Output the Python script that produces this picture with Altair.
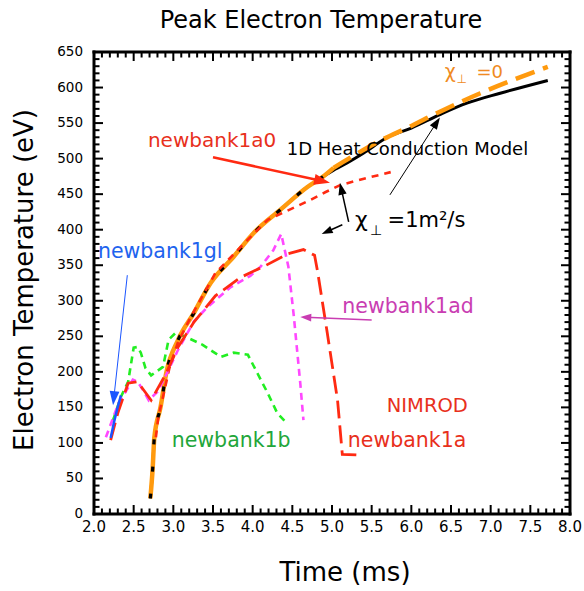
import math
import altair as alt
import pandas as pd

FONT = "DejaVu Sans"

# ---------------- data ----------------
# 1D heat conduction model (black solid)
black_t = [2.71, 2.74, 2.76, 2.84, 2.91, 3.06, 3.26, 3.47, 3.76, 4.01, 4.35, 4.69, 4.88,
           5.04, 5.19, 5.40, 5.70, 6.00, 6.36, 6.70, 7.12, 7.72]
black_v = [22, 65, 107, 151, 198, 245, 283, 325, 362, 395, 428, 460, 474,
           485, 494, 508, 530, 543, 562, 578, 592, 610]

# chi_perp = 0 (orange)
orange_t = [2.71, 2.74, 2.76, 2.84, 2.91, 3.06, 3.26, 3.47, 3.76, 4.01, 4.35, 4.69, 4.88,
            5.02, 5.30, 5.57, 6.00, 6.36, 6.87, 7.29, 7.72]
orange_v = [22, 65, 107, 151, 198, 245, 283, 325, 362, 395, 428, 460, 474,
            487, 506, 523, 546, 566, 592, 611, 629]

# chi_perp = 1 m^2/s (red short dash)
rs_t = [2.78, 2.81, 2.87, 2.95, 3.06, 3.22, 3.53, 3.94, 4.19, 4.52, 4.73, 4.92, 5.11, 5.45, 5.74]
rs_v = [108, 136, 165, 205, 242, 277, 339, 386, 414, 431, 442, 453, 463, 473, 481]

# newbank1a (red long dash)
rl_t = [2.21, 2.30, 2.43, 2.55, 2.72, 2.91, 3.06, 3.26, 3.53, 3.85, 4.17, 4.44, 4.64,
        4.78, 4.82, 4.94, 5.07, 5.13, 5.32]
rl_v = [104, 142, 184, 186, 160, 198, 235, 270, 307, 333, 350, 366, 372,
        364, 340, 255, 160, 84, 83]

# newbank1ad (magenta)
mg_t = [2.15, 2.31, 2.49, 2.55, 2.62, 2.69, 2.80, 2.88, 3.06, 3.26, 3.43, 3.72, 3.97,
        4.10, 4.26, 4.36, 4.45, 4.52, 4.60, 4.64]
mg_v = [108, 156, 189, 186, 174, 160, 172, 189, 231, 271, 291, 319, 335,
        348, 371, 394, 348, 277, 184, 132]

# newbank1b (green)
gr_t = [2.24, 2.34, 2.43, 2.50, 2.55, 2.59, 2.65, 2.72, 2.87, 2.94, 3.03, 3.16, 3.37,
        3.60, 3.76, 3.94, 4.06, 4.19, 4.31, 4.42]
gr_v = [132, 165, 186, 234, 235, 227, 205, 195, 207, 245, 255, 249, 238,
        221, 227, 224, 198, 170, 142, 129]

# newbank1gl (blue)
bl_t = [2.21, 2.25, 2.30, 2.34]
bl_v = [107, 128, 151, 167]

# axis tick labels and titles
x_labels = [2.0, 2.5, 3.0, 3.5, 4.0, 4.5, 5.0, 5.5, 6.0, 6.5, 7.0, 7.5, 8.0]
y_labels = [0, 50, 100, 150, 200, 250, 300, 350, 400, 450, 500, 550, 600, 650]
x_title = "Time (ms)"
y_title = "Electron Temperature (eV)"
main_title = "Peak Electron Temperature"

# ---------------- geometry: the view covers the whole canvas ----------------
CW, CH = 584, 591                      # canvas
PL, PR, PT, PB = 94, 570, 52, 514      # plot frame in pixels
T0, T1, V0, V1 = 2.0, 8.0, 0, 650      # frame in data units
XS = (PR - PL) / (T1 - T0)
YS = (PB - PT) / (V1 - V0)
xdom = [T0 - PL / XS, T1 + (CW - PR) / XS]
ydom = [V0 - (CH - PB) / YS, V1 + PT / YS]
xscale = alt.Scale(domain=xdom, nice=False, zero=False)
yscale = alt.Scale(domain=ydom, nice=False, zero=False)


def X(f):
    return alt.X(f"{f}:Q", scale=xscale, axis=None)


def Y(f):
    return alt.Y(f"{f}:Q", scale=yscale, axis=None)


def line(t, v, color, width, dash=None, interp="linear", tmin=None, tmax=None):
    d = pd.DataFrame({"t": t, "v": v})
    if tmin is not None:
        d = d[d.t >= tmin]
    if tmax is not None:
        d = d[d.t <= tmax]
    kw = dict(color=color, strokeWidth=width, interpolate=interp, strokeCap="butt")
    if dash:
        kw["strokeDash"] = dash
    return alt.Chart(d).mark_line(**kw).encode(x=X("t"), y=Y("v"), order="t:Q")


# ---------------- frame, inward ticks, labels, titles ----------------
MINOR, MAJOR = 5.5, 9
xt = [round(2.0 + 0.1 * i, 2) for i in range(61)]
yt = list(range(0, 651, 10))
rows = []
for t in xt:
    L = (MAJOR if abs(t * 2 - round(t * 2)) < 1e-6 else MINOR) / YS
    rows.append({"t": t, "y1": float(V0), "y2": V0 + L})
    rows.append({"t": t, "y1": float(V1), "y2": V1 - L})
xticks = pd.DataFrame(rows)
rows = []
for v in yt:
    L = (MAJOR if v % 50 == 0 else MINOR) / XS
    rows.append({"v": float(v), "x1": T0, "x2": T0 + L})
    rows.append({"v": float(v), "x1": T1, "x2": T1 - L})
yticks = pd.DataFrame(rows)

frame_df = pd.DataFrame({"fx1": [T0, T0, T0, T1], "fx2": [T1, T1, T0, T1],
                         "fy1": [V0, V1, V0, V0], "fy2": [V0, V1, V1, V1]})

guide_layers = [
    alt.Chart(xticks).mark_rule(color="black", strokeWidth=2).encode(
        x=X("t"), y=Y("y1"), y2="y2:Q"),
    alt.Chart(yticks).mark_rule(color="black", strokeWidth=2).encode(
        x=X("x1"), x2="x2:Q", y=Y("v")),
    alt.Chart(frame_df).mark_rule(color="black", strokeWidth=3, strokeCap="square").encode(
        x=X("fx1"), x2="fx2:Q", y=Y("fy1"), y2="fy2:Q"),
    alt.Chart(pd.DataFrame({"t": x_labels})).mark_text(
        font=FONT, fontSize=15, align="center", baseline="top", color="black"
    ).encode(x=X("t"), y=alt.value(PB + 6), text=alt.Text("t:Q", format=".1f")),
    alt.Chart(pd.DataFrame({"v": y_labels})).mark_text(
        font=FONT, fontSize=13.5, align="right", baseline="middle", color="black"
    ).encode(y=Y("v"), x=alt.value(PL - 11), text=alt.Text("v:Q", format="d")),
    alt.Chart(pd.DataFrame({"s": [x_title]})).mark_text(
        font=FONT, fontSize=26, align="center", baseline="middle", color="black"
    ).encode(x=alt.value(345), y=alt.value(573), text="s:N"),
    alt.Chart(pd.DataFrame({"s": [y_title]})).mark_text(
        font=FONT, fontSize=26, align="center", baseline="middle", color="black", angle=270
    ).encode(x=alt.value(25), y=alt.value(280), text="s:N"),
    alt.Chart(pd.DataFrame({"s": [main_title]})).mark_text(
        font=FONT, fontSize=24, align="center", baseline="alphabetic", color="black"
    ).encode(x=alt.value(321), y=alt.value(28), text="s:N"),
]

# ---------------- annotations ----------------
# arrows: tail (t1, v1) -> tip (t2, v2)
arr_t1 = [3.50, 5.73, 5.21, 5.13, 5.50, 2.42]
arr_v1 = [502, 449, 411, 407, 273, 336]
arr_t2 = [4.975, 6.36, 5.10, 4.87, 4.60, 2.24]
arr_v2 = [466, 558, 466, 394, 277, 153]

HEAD = "M0,-1L-0.7,1L0.7,1Z"


def arrow(i, color, width, head_len):
    t1, v1, t2, v2 = arr_t1[i], arr_v1[i], arr_t2[i], arr_v2[i]
    dx = (t2 - t1) * XS
    dy = -(v2 - v1) * YS
    n = math.hypot(dx, dy)
    ux, uy = dx / n, dy / n
    ang = math.degrees(math.atan2(dx, -dy)) % 360
    r = head_len / 2.0
    tc = t2 - r * ux / XS
    vc = v2 + r * uy / YS
    shaft = alt.Chart(pd.DataFrame({"t": [t1], "v": [v1], "t2": [tc], "v2": [vc]})).mark_rule(
        color=color, strokeWidth=width).encode(x=X("t"), y=Y("v"), x2="t2:Q", y2="v2:Q")
    head = alt.Chart(pd.DataFrame({"t": [tc], "v": [vc], "a": [ang]})).mark_point(
        shape=HEAD, filled=True, color=color, opacity=1, size=(2 * r) ** 2, strokeWidth=0
    ).encode(x=X("t"), y=Y("v"), angle=alt.Angle("a:Q", scale=None))
    return [shaft, head]


def label(text, t, v, color, size):
    return alt.Chart(pd.DataFrame({"t": [t], "v": [v], "s": [text]})).mark_text(
        align="left", baseline="alphabetic", font=FONT, fontSize=size, color=color
    ).encode(x=X("t"), y=Y("v"), text="s:N")


RED = "#FF2A12"
RED_TXT = "#E8301C"
ORANGE = "#FF9A0E"
ORANGE_TXT = "#F08A22"
MAG = "#FF48FF"
MAG_TXT = "#C93DB2"
GREEN = "#22EE22"
GREEN_TXT = "#22A63A"
BLUE = "#1A55FF"
BLUE_TXT = "#1E63EE"

layers = list(guide_layers)
layers += [
    line(gr_t, gr_v, GREEN, 2.6, [7, 5]),
    line(black_t, black_v, "black", 3, None, "monotone"),
    line(orange_t, orange_v, ORANGE, 4.5, None, "monotone", tmax=5.02),
    line(black_t, black_v, "black", 3.2, [5, 22], "monotone", tmax=5.04),
    line(orange_t, orange_v, ORANGE, 4.5, [20, 9], "monotone", tmin=5.02),
    line(rs_t, rs_v, RED, 2.6, [7, 6]),
    line(mg_t, mg_v, MAG, 2.6, [7, 5]),
    line(rl_t, rl_v, RED, 2.8, [18, 7]),
    line(bl_t, bl_v, BLUE, 2.5),
]
layers += arrow(0, RED, 2.5, 16)
layers += arrow(1, "black", 1, 12)
layers += arrow(2, "black", 1.5, 12)
layers += arrow(3, "black", 1.5, 11)
layers += arrow(4, MAG_TXT, 1.5, 11)
layers += arrow(5, BLUE, 1, 14)

layers += [
    label("newbank1a0", 2.68, 516, RED_TXT, 20),
    label("1D Heat Conduction Model", 4.43, 505, "black", 18),
    label("newbank1gl", 2.05, 360, BLUE_TXT, 20.5),
    label("newbank1ad", 5.13, 283, MAG_TXT, 20.5),
    label("NIMROD", 5.69, 143, RED_TXT, 19.5),
    label("newbank1a", 5.20, 94, RED_TXT, 20.5),
    label("newbank1b", 2.98, 94, GREEN_TXT, 20.5),
    label("χ", 5.29, 404, "black", 22),
    label("⊥", 5.48, 393, "black", 14),
    label("=1m²/s", 5.70, 404, "black", 21),
    label("χ", 6.42, 613, ORANGE_TXT, 19),
    label("⊥", 6.57, 606, ORANGE_TXT, 12),
    label("=0", 6.82, 613, ORANGE_TXT, 18),
]

chart = alt.layer(*layers).properties(
    width=CW,
    height=CH,
    autosize=alt.AutoSizeParams(type="none"),
    padding=0,
).configure_view(strokeWidth=0)

chart.save("out.html", embed_options={"renderer": "svg", "actions": False})
